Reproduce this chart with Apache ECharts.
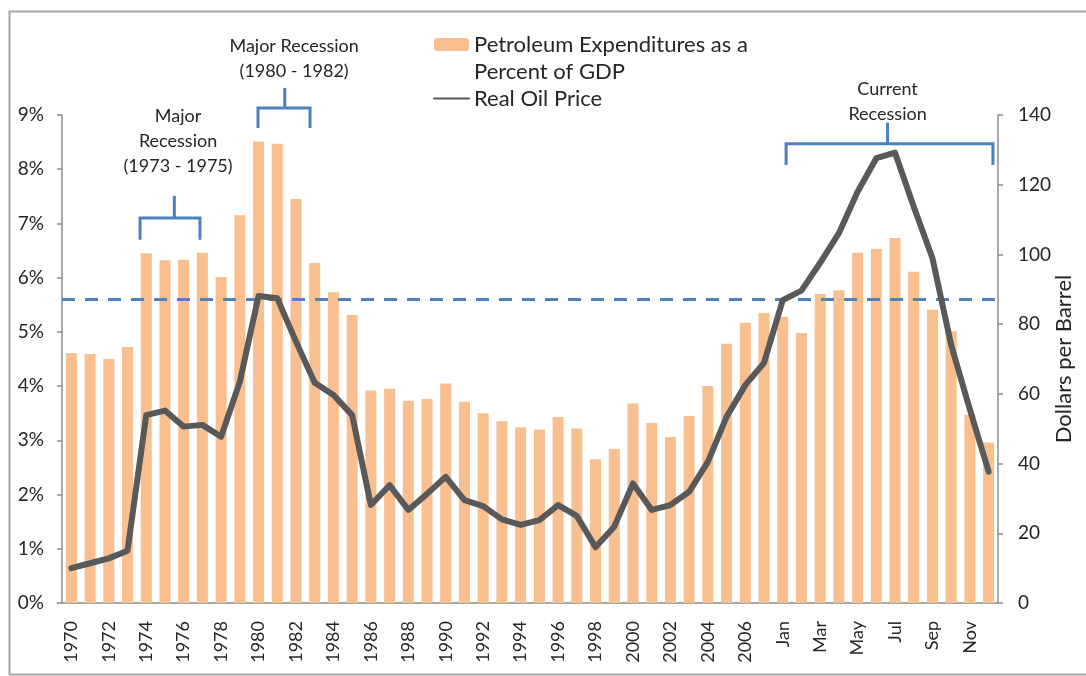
<!DOCTYPE html>
<html>
<head>
<meta charset="utf-8">
<script src="https://cdn.jsdelivr.net/npm/echarts@6/dist/echarts.min.js"></script>
<style>
  html, body { margin: 0; padding: 0; background: #fff; }
  #main { width: 1086px; height: 676px; }
</style>
</head>
<body>
<div id="main"></div>
<script>
var years = ['1970', '1971', '1972', '1973', '1974', '1975', '1976', '1977', '1978', '1979',
  '1980', '1981', '1982', '1983', '1984', '1985', '1986', '1987', '1988', '1989',
  '1990', '1991', '1992', '1993', '1994', '1995', '1996', '1997', '1998', '1999',
  '2000', '2001', '2002', '2003', '2004', '2005', '2006', '2007']
var months = ['Jan', 'Feb', 'Mar', 'Apr', 'May', 'Jun', 'Jul', 'Aug', 'Sep', 'Oct', 'Nov', 'Dec']
var categories = years.concat(months)

// petroleum expenditures, % of GDP
var petroleumPct = [4.61, 4.59, 4.50, 4.72, 6.45, 6.32, 6.33, 6.46, 6.01, 7.15,
  8.51, 8.47, 7.45, 6.27, 5.73, 5.31, 3.92, 3.95, 3.73, 3.76,
  4.05, 3.71, 3.50, 3.35, 3.24, 3.20, 3.43, 3.22, 2.65, 2.84,
  3.68, 3.32, 3.06, 3.45, 4.00, 4.78, 5.17, 5.35,
  5.28, 4.98, 5.70, 5.77, 6.46, 6.53, 6.73, 6.11, 5.41, 5.01, 3.47, 2.96]

// real oil price, dollars per barrel
var oilPrice = [10.0, 11.4, 12.8, 15.0, 53.9, 55.2, 50.6, 51.1, 47.7, 63.5,
  88.1, 87.4, 75.0, 63.2, 59.7, 53.9, 28.1, 33.8, 26.7, 31.3,
  36.2, 29.5, 27.8, 24.0, 22.4, 23.8, 28.1, 25.0, 16.0, 21.9,
  34.3, 26.7, 28.1, 31.9, 40.5, 53.4, 62.5, 68.9,
  86.9, 89.6, 97.6, 106.1, 118.0, 127.6, 129.2, 113.7, 98.9, 74.0, 55.5, 37.7]

var averagePct = 5.61

var barName = 'Petroleum Expenditures as a Percent of GDP'
var lineName = 'Real Oil Price'
var font = 'Lato'
var textColor = '#262626'
var axisColor = '#8c8c8c'
var blue = '#4f81bd'

var chart = echarts.init(document.getElementById('main'))

chart.setOption({
  animation: false,
  grid: {
    left: 62,
    right: 88,
    top: 115,
    bottom: 73,
    containLabel: false,
    outerBoundsMode: 'none'
  },
  legend: {
    left: 433,
    top: 4,
    orient: 'vertical',
    padding: 0,
    itemGap: 0,
    itemWidth: 35,
    itemHeight: 13,
    textStyle: { fontSize: 22, fontFamily: font, color: textColor, lineHeight: 27 },
    // blank first line keeps the icon level with the first line of text
    formatter: function(name) {
      return name === barName ? ' \nPetroleum Expenditures as a\nPercent of GDP' : name
    },
    data: [
      { name: barName },
      { name: lineName, itemStyle: { color: 'rgba(0,0,0,0)', borderWidth: 0 } }
    ]
  },
  xAxis: {
    type: 'category',
    data: categories,
    axisLine: { lineStyle: { color: axisColor, width: 1.5 } },
    axisTick: { interval: 0, length: 5, lineStyle: { color: axisColor, width: 1.5 } },
    axisLabel: {
      interval: 1,
      rotate: 90,
      margin: 18,
      fontSize: 18,
      fontFamily: font,
      color: textColor
    }
  },
  yAxis: [
    {
      type: 'value',
      min: 0,
      max: 9,
      interval: 1,
      splitLine: { show: false },
      axisLine: { show: true, lineStyle: { color: axisColor, width: 1.5 } },
      axisTick: { show: true, length: 5, lineStyle: { color: axisColor, width: 1.5 } },
      axisLabel: { formatter: '{value}%', margin: 18, fontSize: 19, fontFamily: font, color: textColor }
    },
    {
      type: 'value',
      min: 0,
      max: 140,
      interval: 20,
      name: 'Dollars per Barrel',
      nameLocation: 'middle',
      nameRotate: 90,
      nameGap: 55,
      nameMoveOverlap: false,
      nameTextStyle: { fontSize: 22, fontFamily: font, color: textColor },
      splitLine: { show: false },
      axisLine: { show: true, lineStyle: { color: axisColor, width: 1.5 } },
      axisTick: { show: true, length: 5, lineStyle: { color: axisColor, width: 1.5 } },
      axisLabel: { margin: 20, fontSize: 19, fontFamily: font, color: textColor }
    }
  ],
  series: [
    {
      name: barName,
      type: 'bar',
      yAxisIndex: 0,
      data: petroleumPct,
      barWidth: 11,
      itemStyle: { color: '#f9bf8f' },
      markLine: {
        silent: true,
        symbol: 'none',
        label: { show: false },
        lineStyle: { color: blue, width: 3, type: [13, 10] },
        data: [{ yAxis: averagePct }]
      }
    },
    {
      name: lineName,
      type: 'line',
      yAxisIndex: 1,
      z: 6,
      data: oilPrice,
      symbol: 'none',
      color: '#595959',
      lineStyle: { color: '#595959', width: 6, join: 'round', cap: 'round' }
    }
  ]
})

// annotation brackets, placed in category-index / percent units
var x0 = chart.convertToPixel({ xAxisIndex: 0 }, categories[0])
var step = chart.convertToPixel({ xAxisIndex: 0 }, categories[1]) - x0
function px(i) { return x0 + i * step }
function py(v) { return chart.convertToPixel({ yAxisIndex: 0 }, v) }

var notes = [
  { text: 'Major\nRecession\n(1973 - 1975)', from: 3.67, to: 6.87, mid: 5.5, bar: 7.1, end: 6.7, stem: 7.51, tx: 5.7, ty: 8.52 },
  { text: 'Major Recession\n(1980 - 1982)', from: 9.97, to: 12.75, mid: 11.4, bar: 9.13, end: 8.76, stem: 9.5, tx: 11.9, ty: 10.04 },
  { text: 'Current\nRecession', from: 38.18, to: 49.23, mid: 43.6, bar: 8.47, end: 8.08, stem: 8.86, tx: 43.6, ty: 9.25 }
]

var graphics = [{
  type: 'rect',
  left: 7,
  top: 9,
  silent: true,
  shape: { width: 1100, height: 663 },
  style: { fill: 'none', stroke: '#a6a6a6', lineWidth: 2 }
}]

notes.forEach(function(n) {
  graphics.push({
    type: 'polyline',
    silent: true,
    shape: { points: [[px(n.from), py(n.end)], [px(n.from), py(n.bar)], [px(n.to), py(n.bar)], [px(n.to), py(n.end)]] },
    style: { stroke: blue, lineWidth: 3, fill: 'none' }
  })
  graphics.push({
    type: 'line',
    silent: true,
    shape: { x1: px(n.mid), y1: py(n.bar), x2: px(n.mid), y2: py(n.stem) },
    style: { stroke: blue, lineWidth: 3 }
  })
  graphics.push({
    type: 'text',
    silent: true,
    x: px(n.tx),
    y: py(n.ty),
    style: {
      text: n.text,
      fontSize: 18,
      fontFamily: font,
      fill: textColor,
      align: 'center',
      verticalAlign: 'middle',
      textAlign: 'center',
      textVerticalAlign: 'middle',
      lineHeight: 25
    }
  })
})

chart.setOption({ graphic: graphics })
</script>
</body>
</html>
